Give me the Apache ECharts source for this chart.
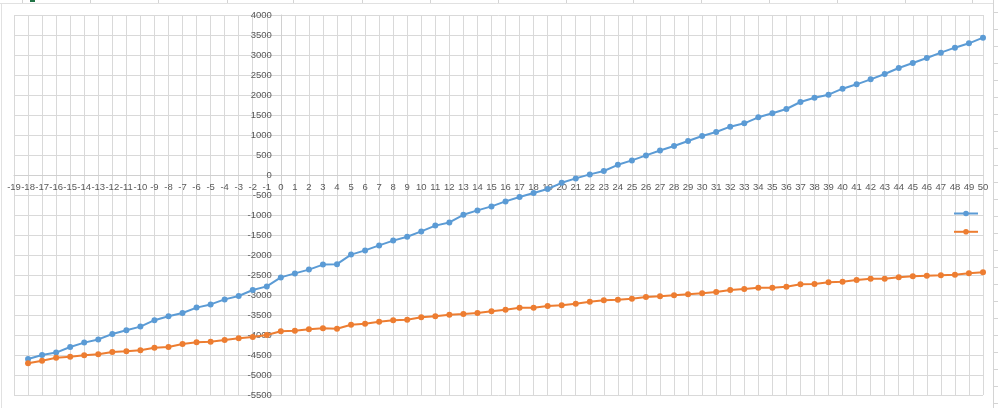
<!DOCTYPE html>
<html>
<head>
<meta charset="utf-8">
<script src="https://cdn.jsdelivr.net/npm/echarts@6/dist/echarts.min.js"></script>
<style>html,body{margin:0;padding:0;background:#fff;}#c{width:998px;height:408px;}</style>
</head>
<body>
<div id="c"></div>
<script>
const xValues = [-18,-17,-16,-15,-14,-13,-12,-11,-10,-9,-8,-7,-6,-5,-4,-3,-2,-1,0,1,2,3,4,5,6,7,8,9,10,11,12,13,14,15,16,17,18,19,20,21,22,23,24,25,26,27,28,29,30,31,32,33,34,35,36,37,38,39,40,41,42,43,44,45,46,47,48,49,50];
const blueValues = [-4600,-4500,-4440,-4300,-4190,-4110,-3975,-3880,-3790,-3630,-3530,-3450,-3315,-3235,-3110,-3025,-2875,-2785,-2560,-2460,-2365,-2240,-2230,-1990,-1885,-1760,-1640,-1545,-1410,-1265,-1185,-995,-885,-785,-660,-550,-450,-350,-195,-85,15,100,255,365,490,612,725,850,975,1075,1208,1292,1442,1542,1650,1825,1933,2008,2158,2267,2392,2525,2675,2800,2925,3058,3183,3292,3433];
const orangeValues = [-4708,-4642,-4567,-4542,-4508,-4483,-4425,-4408,-4383,-4317,-4300,-4225,-4183,-4167,-4125,-4083,-4050,-4000,-3908,-3892,-3858,-3833,-3842,-3742,-3717,-3667,-3633,-3617,-3558,-3533,-3492,-3475,-3450,-3408,-3367,-3317,-3317,-3275,-3258,-3217,-3167,-3133,-3117,-3092,-3050,-3033,-3008,-2983,-2958,-2925,-2875,-2850,-2817,-2817,-2792,-2733,-2725,-2683,-2667,-2625,-2592,-2592,-2558,-2533,-2517,-2508,-2492,-2458,-2433];
const xMin = -19, xMax = 50, xStep = 1, yMin = -5500, yMax = 4000, yStep = 500;

const G = {left:14, right:15, top:15, bottom:13};
const W = 998, H = 408;
const gw = W - G.left - G.right, gh = H - G.top - G.bottom;
// place the axes on the zero lines (as in the spreadsheet chart)
const xAxisOffset = -gh * (0 - yMin) / (yMax - yMin);
const yAxisOffset = -gw * (0 - xMin) / (xMax - xMin);

const chart = echarts.init(document.getElementById('c'));
const lbl = {color:'#595959', fontSize:9.5, fontFamily:'Liberation Sans', hideOverlap:false, formatter: v => String(v)};
const sheetCols = [22,90,158,227,293,362,430,498,566,633,701,769,837,905,972];
const graphics = [
  {type:'line', shape:{x1:0,y1:3.5,x2:993,y2:3.5}, style:{stroke:'#e1e1e1',lineWidth:1}, silent:true},
  {type:'line', shape:{x1:1.5,y1:4,x2:1.5,y2:408}, style:{stroke:'#e1e1e1',lineWidth:1}, silent:true},
  {type:'line', shape:{x1:993.5,y1:0,x2:993.5,y2:408}, style:{stroke:'#d4d4d4',lineWidth:1}, silent:true},
  {type:'rect', shape:{x:30,y:0,width:5,height:2}, style:{fill:'#217346'}, silent:true}
];
sheetCols.forEach(x => graphics.push({type:'line', shape:{x1:x+0.5,y1:0,x2:x+0.5,y2:3}, style:{stroke:'#d4d4d4',lineWidth:1}, silent:true}));
for (let y = 12; y < 408; y += 17) graphics.push({type:'line', shape:{x1:994,y1:y+0.5,x2:998,y2:y+0.5}, style:{stroke:'#d4d4d4',lineWidth:1}, silent:true});

chart.setOption({
  animation:false,
  backgroundColor:'#fff',
  graphic: graphics,
  grid:{left:G.left, right:G.right, top:G.top, bottom:G.bottom, containLabel:false, outerBoundsMode:'none'},
  legend:{
    orient:'vertical', left:948, top:205, itemWidth:24, itemHeight:7, itemGap:12,
    formatter: () => '', textStyle:{fontSize:1},
    data:['A','B']
  },
  xAxis:{
    type:'value', min:xMin, max:xMax, interval:xStep, position:'bottom', offset:xAxisOffset,
    axisLine:{show:true, onZero:false, lineStyle:{color:'#d0d0d0', width:1}},
    axisTick:{show:false},
    axisLabel:{...lbl, margin:7, showMinLabel:true, showMaxLabel:true},
    splitLine:{show:true, lineStyle:{color:'#d9d9d9', width:1}}
  },
  yAxis:{
    type:'value', min:yMin, max:yMax, interval:yStep, position:'left', offset:yAxisOffset,
    axisLine:{show:true, onZero:false, lineStyle:{color:'#d0d0d0', width:1}},
    axisTick:{show:false},
    axisLabel:{...lbl, margin:9, showMinLabel:true, showMaxLabel:true},
    splitLine:{show:true, lineStyle:{color:'#d9d9d9', width:1}}
  },
  series:[
    {name:'A', type:'line', data: xValues.map((x,i)=>[x, blueValues[i]]),
     symbol:'circle', symbolSize:6, color:'#5B9BD5', lineStyle:{width:2, color:'#5B9BD5'}, itemStyle:{color:'#5B9BD5'}},
    {name:'B', type:'line', data: xValues.map((x,i)=>[x, orangeValues[i]]),
     symbol:'circle', symbolSize:6, color:'#ED7D31', lineStyle:{width:2, color:'#ED7D31'}, itemStyle:{color:'#ED7D31'}}
  ]
});
</script>
</body>
</html>
